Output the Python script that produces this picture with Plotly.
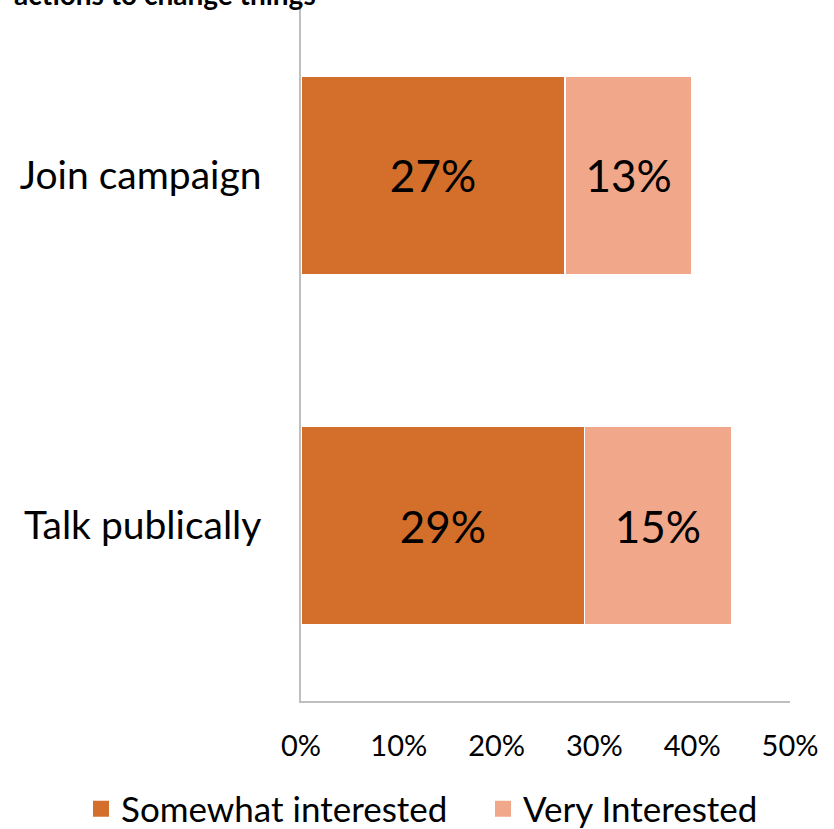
import plotly.graph_objects as go

categories = ["Join campaign", "Talk publically"]
somewhat = [27, 29]
very = [13, 15]
series_names = ["Somewhat interested", "Very Interested"]
colors = ["#D36F2B", "#F1A78A"]
tick_vals = [0, 10, 20, 30, 40, 50]
tick_text = ["0%", "10%", "20%", "30%", "40%", "50%"]
title_text = "actions to change things"

FONT = "Lato, Open Sans, sans-serif"

fig = go.Figure()
for name, vals, col in zip(series_names, [somewhat, very], colors):
    fig.add_trace(go.Bar(
        y=categories, x=vals, name=name, orientation="h",
        marker=dict(color=col, line=dict(color="white", width=1.5)),
        text=[f"{v}%" for v in vals], textposition="inside",
        insidetextanchor="middle",
        textfont=dict(size=44, color="black", family=FONT),
        width=0.567, showlegend=False,
    ))
# legend entries with larger square swatches, one legend box per series
legend_ids = ["legend", "legend2"]
for name, col, lid in zip(series_names, colors, legend_ids):
    fig.add_trace(go.Scatter(
        x=[None], y=[None], mode="markers", name=name,
        marker=dict(symbol="square", size=18, color=col),
        showlegend=True, legend=lid,
    ))

leg_common = dict(orientation="h", xref="container", yref="paper",
                  y=-0.154, yanchor="middle", xanchor="left",
                  font=dict(size=35), itemwidth=30,
                  bgcolor="rgba(0,0,0,0)")

fig.update_layout(
    barmode="stack",
    width=834, height=829,
    margin=dict(l=301, r=44, t=0, b=128, autoexpand=False),
    paper_bgcolor="white", plot_bgcolor="white",
    font=dict(family=FONT, color="black"),
    xaxis=dict(range=[0, 50], tickvals=tick_vals, ticktext=tick_text,
               showgrid=False, zeroline=False, showline=True,
               linecolor="#BFBFBF", linewidth=1.5, ticks="",
               tickfont=dict(size=29), ticklabelstandoff=18),
    yaxis=dict(categoryorder="array", categoryarray=categories[::-1],
               showgrid=False, zeroline=False, showline=True,
               linecolor="#BFBFBF", linewidth=1.5, ticks="",
               tickfont=dict(size=39), ticklabelstandoff=30),
    legend=dict(x=(106 - 25) / 834, **leg_common),
    legend2=dict(x=(508 - 25) / 834, **leg_common),
    uniformtext=dict(minsize=10, mode="show"),
    annotations=[dict(text=f"<b>{title_text}</b>", xref="paper", yref="paper",
                      x=-0.59, y=0.982, xanchor="left", yanchor="bottom",
                      showarrow=False, font=dict(size=28, color="black"))],
)

fig.write_html("out.html")
